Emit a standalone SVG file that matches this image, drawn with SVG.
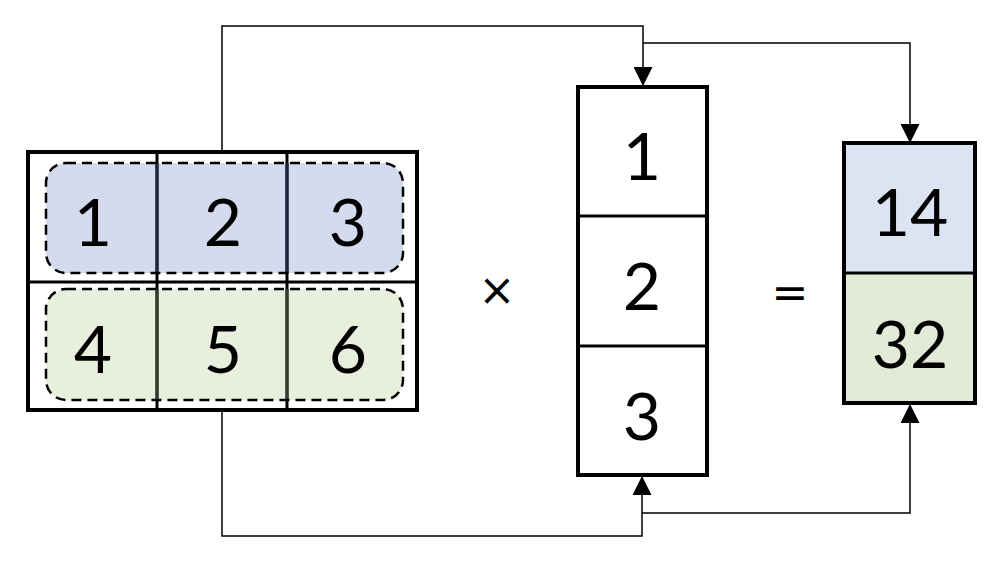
<svg xmlns="http://www.w3.org/2000/svg" width="1000" height="584" viewBox="0 0 1000 584">
<style>
.box{fill:none;stroke:#000;stroke-width:4}
.ln{fill:none;stroke:#000;stroke-width:3}
.num{font-family:Lato,"Liberation Sans",sans-serif;font-size:66px;fill:#000;text-anchor:middle}
.op{font-family:"DejaVu Sans","Liberation Sans",sans-serif;font-size:44px;fill:#000;text-anchor:middle}
.con{fill:none;stroke:#000;stroke-width:1.5}
.dash{fill:none;stroke:#000;stroke-width:2.5;stroke-dasharray:10 6}
</style>
<defs>
<marker id="arrL" markerWidth="19" markerHeight="19" refX="19" refY="9.5" orient="auto" markerUnits="userSpaceOnUse" viewBox="0 0 19 19">
<path d="M0,0 L19,9.5 L0,19 Z" fill="#000"/>
</marker>
</defs>
<g id="connectors">
<path class="con" d="M222,152 V26 H643 V86" marker-end="url(#arrL)"/>
<path class="con" d="M643,43 H910 V143" marker-end="url(#arrL)"/>
<path class="con" d="M222,410 V536 H642 V476" marker-end="url(#arrL)"/>
<path class="con" d="M642,513 H910 V404" marker-end="url(#arrL)"/>
</g>
<g id="matrix">
<rect x="28" y="152" width="389" height="258" fill="#fff"/>
<rect x="46" y="163" width="357" height="110" rx="20" fill="#d5dbee"/>
<rect x="46" y="289" width="357" height="111" rx="20" fill="#e8efdd"/>
<line class="ln" x1="28" y1="282" x2="417" y2="282"/>
<line class="ln" x1="157" y1="152" x2="157" y2="410"/>
<line class="ln" x1="287" y1="152" x2="287" y2="410"/>
<line x1="157" y1="163" x2="157" y2="273" stroke="#1c2540" stroke-width="3"/>
<line x1="287" y1="163" x2="287" y2="273" stroke="#1c2540" stroke-width="3"/>
<line x1="157" y1="289" x2="157" y2="400" stroke="#353d2a" stroke-width="3"/>
<line x1="287" y1="289" x2="287" y2="400" stroke="#353d2a" stroke-width="3"/>
<rect class="box" x="28" y="152" width="389" height="258"/>
<rect id="row1" class="dash" x="46" y="163" width="357" height="110" rx="20"/>
<rect id="row2" class="dash" x="46" y="289" width="357" height="111" rx="20"/>
<text class="num" x="93" y="246">1</text>
<text class="num" x="223" y="246">2</text>
<text class="num" x="348" y="246">3</text>
<text class="num" x="93" y="373">4</text>
<text class="num" x="223" y="373">5</text>
<text class="num" x="348" y="373">6</text>
</g>
<g id="times"><text class="op" x="497" y="305">×</text></g>
<g id="vector">
<rect class="box" x="578" y="87" width="129" height="388" fill="#fff"/>
<line class="ln" x1="578" y1="216" x2="707" y2="216"/>
<line class="ln" x1="578" y1="346" x2="707" y2="346"/>
<text class="num" x="642" y="180">1</text>
<text class="num" x="642" y="310">2</text>
<text class="num" x="642" y="440">3</text>
</g>
<g id="equals"><text class="op" x="790" y="308">=</text></g>
<g id="result">
<rect x="844" y="143" width="131" height="130" fill="#dce4f3"/>
<rect x="844" y="273" width="131" height="130" fill="#e2ebd5"/>
<rect class="box" x="844" y="143" width="131" height="260"/>
<line class="ln" x1="844" y1="273" x2="975" y2="273"/>
<text class="num" x="910" y="236">14</text>
<text class="num" x="910" y="368">32</text>
</g>
</svg>
